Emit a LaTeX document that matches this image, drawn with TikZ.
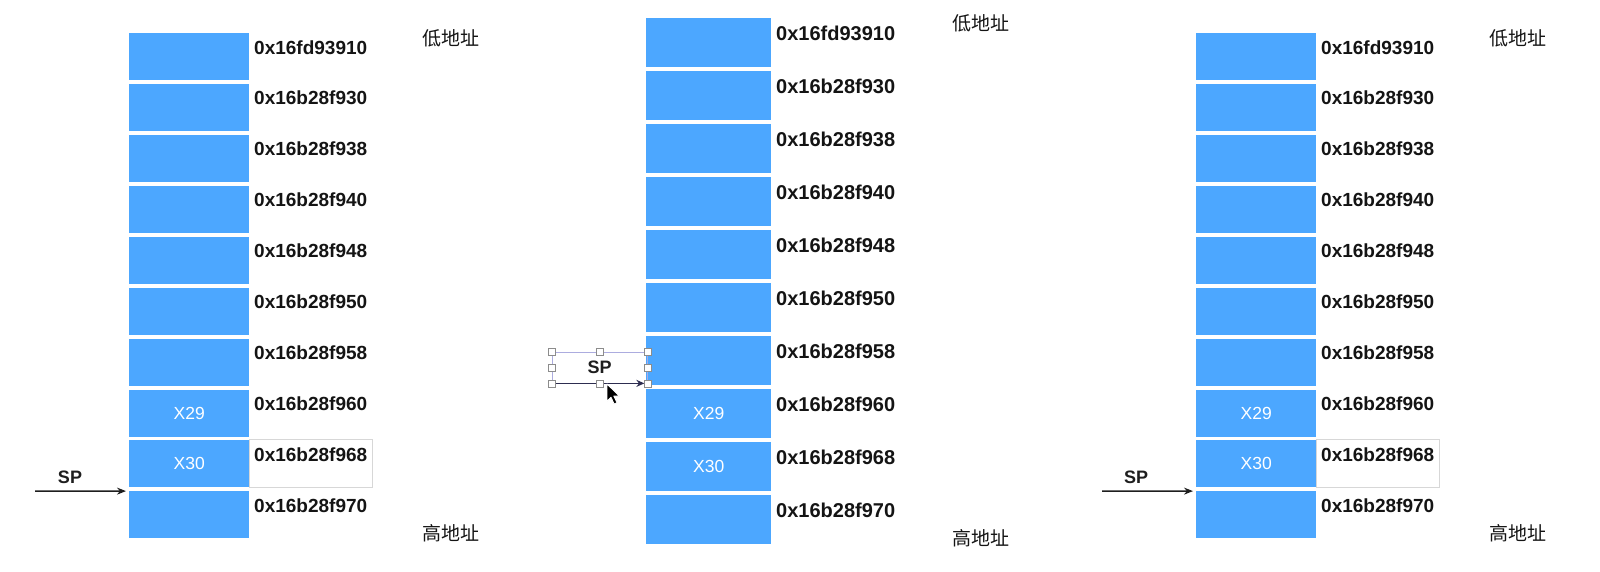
\documentclass[tikz,border=0pt]{standalone}
\usepackage{fontspec}
\setmainfont{Liberation Sans}
\newfontfamily\cjk{Noto Sans CJK SC}
\usetikzlibrary{arrows.meta}
\definecolor{boxblue}{RGB}{76,167,255}
\definecolor{addrtext}{RGB}{20,20,20}
\definecolor{arrowink}{RGB}{30,30,30}
\definecolor{navyink}{RGB}{45,45,80}
\definecolor{handlegray}{RGB}{140,140,140}
\definecolor{framegray}{RGB}{215,215,215}
\begin{document}
\begin{tikzpicture}[x=1pt,y=-1pt,
  cell/.style={fill=boxblue, draw=none, anchor=north west, inner sep=0pt,
    text=white, font=\fontsize{17.5}{17.5}\selectfont},
  cellLR/.style={cell, minimum width=120pt, minimum height=47pt},
  cellM/.style={cell, minimum width=125pt, minimum height=49pt},
  addr/.style={anchor=base west, inner sep=0pt, text=addrtext},
  addrLR/.style={addr, font=\fontsize{19}{19}\selectfont\bfseries},
  addrM/.style={addr, font=\fontsize{20}{20}\selectfont\bfseries},
  cjklabel/.style={inner sep=0pt, text=addrtext, font=\cjk\fontsize{19}{19}\selectfont},
  splabel/.style={inner sep=0pt, text=arrowink, font=\fontsize{18}{18}\selectfont\bfseries},
  sparrow/.style={draw=arrowink, line width=1.3pt, -{Stealth[length=9pt,width=7pt]}},
  hlframe/.style={draw=framegray, line width=0.8pt, fill=none, inner sep=0pt,
    minimum width=123pt, minimum height=48pt},
  handle/.style={draw=handlegray, fill=white, line width=0.7pt, inner sep=0pt,
    minimum width=7pt, minimum height=7pt},
  cursorshape/.style={fill=black, draw=white, line width=0.8pt, line join=round}
]
\useasboundingbox (0,0) rectangle (1600,571);

% ---------- three stacks ----------
\foreach \i/\a/\t in {0/0x16fd93910/,1/0x16b28f930/,2/0x16b28f938/,3/0x16b28f940/,
  4/0x16b28f948/,5/0x16b28f950/,6/0x16b28f958/,7/0x16b28f960/X29,
  8/0x16b28f968/X30,9/0x16b28f970/}{
  \node[cellLR] (L\i) at (129,{33+\i*50.9}) {\t};
  \node[addrLR] (LA\i) at (254,{54+\i*50.9}) {\a};
  \node[cellLR] (R\i) at (1196,{33+\i*50.9}) {\t};
  \node[addrLR] (RA\i) at (1321,{54+\i*50.9}) {\a};
  \node[cellM] (M\i) at (646,{18+\i*53}) {\t};
  \node[addrM] (MA\i) at (776,{40+\i*53}) {\a};
}

% highlight frames around 0x16b28f968
\node[hlframe] (LH) at (310.5,463) {};
\node[hlframe] (RH) at (1377.5,463) {};

% address direction labels
\node[cjklabel] (Llow) at (451,38) {低地址};
\node[cjklabel] (Lhigh) at (451,533) {高地址};
\node[cjklabel] (Mlow) at (981,23) {低地址};
\node[cjklabel] (Mhigh) at (981,538) {高地址};
\node[cjklabel] (Rlow) at (1518,38) {低地址};
\node[cjklabel] (Rhigh) at (1518,533) {高地址};

% SP pointers (left, right)
\node[splabel] (LSP) at (70,477) {SP};
\coordinate (LSPs) at (35,491.1);
\draw[sparrow, shorten >=3pt] (LSPs) -- (L9.north west);

\node[splabel] (RSP) at (1136,477) {SP};
\coordinate (RSPs) at (1102,491.1);
\draw[sparrow, shorten >=3pt] (RSPs) -- (R9.north west);

% middle: selected SP text box with arrow along bottom
\node[draw=framegray!80!blue, line width=0.7pt, minimum width=95pt, minimum height=31pt,
  inner sep=0pt, splabel] (MSP) at (599.5,367.5) {SP};
\draw[draw=navyink, line width=1.6pt, -{Stealth[length=8pt,width=7pt]}, shorten >=3pt]
  (MSP.south west) -- (MSP.south east);
\foreach \anc in {north west,north,north east,east,south east,south,south west,west}{
  \node[handle] at (MSP.\anc) {};
}

% mouse cursor
\coordinate (cur) at (607,384);
\filldraw[cursorshape] (cur) -- ++(0,17) -- ++(4,-3.8) -- ++(3.2,6.8) -- ++(2.8,-1.3)
  -- ++(-3.2,-6.6) -- ++(5.5,0) -- cycle;
\end{tikzpicture}
\end{document}
